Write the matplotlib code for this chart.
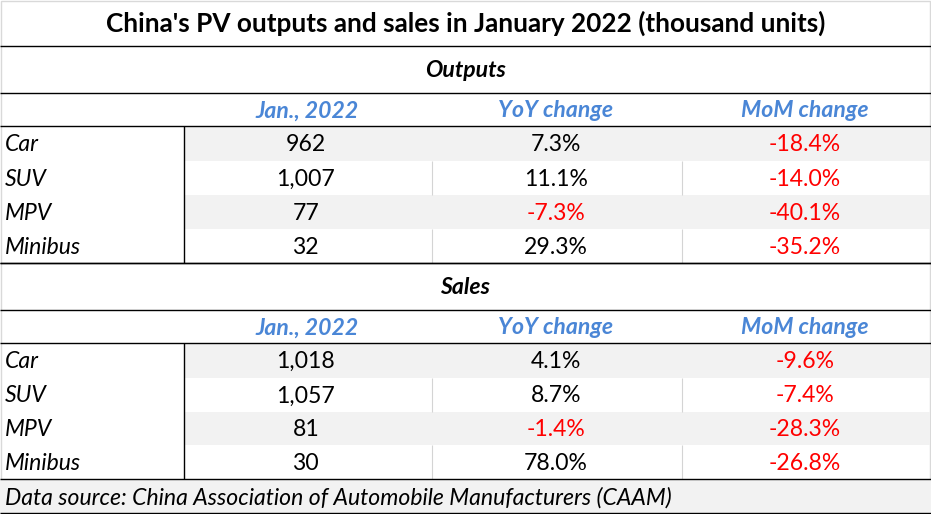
import matplotlib
matplotlib.use("Agg")
import matplotlib.pyplot as plt
from matplotlib.patches import Rectangle

# ---------------- data ----------------
title = "China's PV outputs and sales in January 2022 (thousand units)"
sections = ["Outputs", "Sales"]
col_headers = ["Jan., 2022", "YoY change", "MoM change"]
categories = ["Car", "SUV", "MPV", "Minibus"]

outputs_vol = [962, 1007, 77, 32]
outputs_yoy = [7.3, 11.1, -7.3, 29.3]
outputs_mom = [-18.4, -14.0, -40.1, -35.2]

sales_vol = [1018, 1057, 81, 30]
sales_yoy = [4.1, 8.7, -1.4, 78.0]
sales_mom = [-9.6, -7.4, -28.3, -26.8]

source = "Data source: China Association of Automobile Manufacturers (CAAM)"

# ---------------- style ----------------
W, H = 931, 514
FONT = "Lato"
BLUE = "#4A86D6"
RED = "#FF0000"
GRAY_FILL = "#F2F2F2"
GRID = "#D4D4D4"
FS = 16.6

col_edges = [0, 183.5, 432, 682, 930]
col_centers = [(col_edges[i] + col_edges[i + 1]) / 2 for i in range(1, 4)]

fig = plt.figure(figsize=(W / 100, H / 100), dpi=100)
ax = fig.add_axes([0, 0, 1, 1])
ax.set_xlim(0, W)
ax.set_ylim(H, 0)
ax.axis("off")


def hline(y, color="black", lw=1.0, x0=0, x1=W):
    ax.plot([x0, x1], [y, y], color=color, lw=lw, solid_capstyle="butt", zorder=5)


def vline(x, y0, y1, color="black", lw=1.0):
    ax.plot([x, x], [y0, y1], color=color, lw=lw, solid_capstyle="butt", zorder=4)


def fmt_vol(v):
    return f"{v:,}"


def fmt_pct(v):
    return f"{v:.1f}%"


# outer light border
ax.add_patch(Rectangle((0.5, 0.5), 929.5, 513, fill=False, ec="#D9D9D9", lw=1.0, zorder=1))

# title
ax.text(465.5, 23, title, ha="center", va="center", fontsize=18.8,
        fontweight="bold", family=FONT, color="black")

blocks = [
    (46, sections[0], outputs_vol, outputs_yoy, outputs_mom, [126, 160.5, 194.5, 228.7, 263]),
    (263, sections[1], sales_vol, sales_yoy, sales_mom, [343, 377.5, 411.5, 445.2, 479]),
]

for top, name, vol, yoy, mom, rows in blocks:
    sec_bottom = top + 46.5
    hdr_bottom = rows[0]
    hline(top)
    ax.text(465.5, (top + sec_bottom) / 2 + 1.5, name, ha="center", va="center",
            fontsize=FS, fontweight="bold", style="italic", family=FONT, color="black")
    hline(sec_bottom)
    for cx, h in zip(col_centers, col_headers):
        ax.text(cx - 1, (sec_bottom + hdr_bottom) / 2 + 1.5, h, ha="center", va="center",
                fontsize=FS, fontweight="bold", style="italic", family=FONT, color=BLUE)
    hline(hdr_bottom)
    for i, cat in enumerate(categories):
        y0, y1 = rows[i], rows[i + 1]
        ym = (y0 + y1) / 2 + 1.5
        if i % 2 == 0:
            ax.add_patch(Rectangle((col_edges[1], y0), col_edges[4] - col_edges[1], y1 - y0,
                                   fc=GRAY_FILL, ec="none", zorder=2))
        else:
            vline(col_edges[2], y0, y1, color=GRID, lw=0.8)
            vline(col_edges[3], y0, y1, color=GRID, lw=0.8)
        ax.text(5, ym, cat, ha="left", va="center", fontsize=FS, style="italic",
                family=FONT, color="black", zorder=6)
        ax.text(col_centers[0] - 2, ym, fmt_vol(vol[i]), ha="center", va="center",
                fontsize=FS, family=FONT, color="black", zorder=6)
        ax.text(col_centers[1] - 1, ym, fmt_pct(yoy[i]), ha="center", va="center",
                fontsize=FS, family=FONT, color=RED if yoy[i] < 0 else "black", zorder=6)
        ax.text(col_centers[2] - 1, ym, fmt_pct(mom[i]), ha="center", va="center",
                fontsize=FS, family=FONT, color=RED if mom[i] < 0 else "black", zorder=6)
    vline(col_edges[1], rows[0], rows[-1])
    hline(rows[-1])

# footer
ax.add_patch(Rectangle((0, 479), W, 34, fc=GRAY_FILL, ec="none", zorder=2))
ax.text(5, 497.5, source, ha="left", va="center", fontsize=FS, style="italic",
        family=FONT, color="black", zorder=6)
hline(513)

fig.savefig("out.png", dpi=100)
